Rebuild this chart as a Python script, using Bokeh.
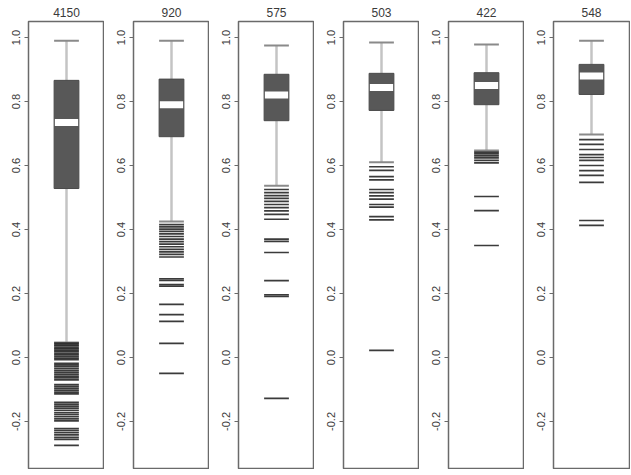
from bokeh.plotting import figure
from bokeh.layouts import row
from bokeh.models import Range1d, FixedTicker, PrintfTickFormatter
from bokeh.embed import file_html
from bokeh.resources import INLINE

# ---- data ----
counts = ["4150", "920", "575", "503", "422", "548"]
whisker_hi = [0.990, 0.990, 0.975, 0.984, 0.978, 0.990]
q3 = [0.866, 0.870, 0.885, 0.888, 0.890, 0.916]
medians = [0.734, 0.790, 0.820, 0.844, 0.850, 0.880]
q1 = [0.528, 0.690, 0.740, 0.772, 0.790, 0.822]
whisker_lo = [0.047, 0.425, 0.537, 0.610, 0.647, 0.697]

outliers_1 = [0.045, 0.040, 0.036, 0.031, 0.027, 0.022, 0.018, 0.013, 0.008, 0.003,
              -0.002, -0.007, -0.018, -0.023, -0.028, -0.034, -0.040, -0.046, -0.052,
              -0.058, -0.064, -0.070, -0.085, -0.090, -0.096, -0.102, -0.108, -0.114,
              -0.140, -0.146, -0.152, -0.158, -0.165, -0.172, -0.178, -0.185, -0.192,
              -0.198, -0.222, -0.228, -0.235, -0.242, -0.250, -0.256, -0.275]
outliers_2 = [0.415, 0.408, 0.401, 0.394, 0.386, 0.378, 0.370, 0.362, 0.354, 0.346,
              0.338, 0.330, 0.322, 0.314, 0.246, 0.241, 0.228, 0.223, 0.166, 0.134,
              0.113, 0.044, -0.050]
outliers_3 = [0.525, 0.515, 0.506, 0.497, 0.488, 0.478, 0.468, 0.458, 0.447, 0.432,
              0.370, 0.363, 0.328, 0.240, 0.196, 0.191, -0.128]
outliers_4 = [0.596, 0.585, 0.565, 0.555, 0.525, 0.515, 0.505, 0.495, 0.478, 0.470,
              0.440, 0.430, 0.022]
outliers_5 = [0.642, 0.636, 0.630, 0.624, 0.616, 0.608, 0.503, 0.459, 0.350]
outliers_6 = [0.681, 0.666, 0.650, 0.634, 0.625, 0.616, 0.600, 0.584, 0.569, 0.547,
              0.428, 0.413]
outliers = [outliers_1, outliers_2, outliers_3, outliers_4, outliers_5, outliers_6]

y_ticks = [-0.2, 0.0, 0.2, 0.4, 0.6, 0.8, 1.0]

# ---- styling / layout constants ----
BOX_C = 0.5
BOX_HW = 0.163
BOX_COLOR = "#585858"
WHISKER_COLOR = "#c4c4c4"
CAP_COLOR = "#8a8a8a"
OUT_COLOR = "#262626"
FRAME_COLOR = "#6a6a6a"
TEXT_COLOR = "#3a3a3a"
FONT = "Liberation Sans"

figs = []
for i in range(len(counts)):
    p = figure(
        frame_width=76, frame_height=447,
        x_range=Range1d(0, 1), y_range=Range1d(-0.347, 1.05),
        output_backend="svg", toolbar_location=None,
        min_border_left=28 if i == 0 else 29,
        min_border_right=1 if i == len(counts) - 1 else 0,
        min_border_top=0, min_border_bottom=1,
        x_axis_location=None, title=counts[i],
    )
    p.title.align = "center"
    p.title.text_font = FONT
    p.title.text_font_size = "12px"
    p.title.text_font_style = "normal"
    p.title.text_color = TEXT_COLOR
    p.title.standoff = 10
    p.grid.visible = False
    p.outline_line_color = FRAME_COLOR
    p.outline_line_width = 1.5
    p.background_fill_color = "white"
    p.border_fill_color = "white"

    ax = p.yaxis[0]
    ax.ticker = FixedTicker(ticks=y_ticks)
    ax.formatter = PrintfTickFormatter(format="%.1f")
    ax.major_label_orientation = "vertical"
    ax.axis_line_color = None
    ax.major_tick_out = 4
    ax.major_tick_in = 0
    ax.major_tick_line_color = FRAME_COLOR
    ax.minor_tick_line_color = None
    ax.major_label_standoff = 4
    ax.major_label_text_font = FONT
    ax.major_label_text_font_size = "11px"
    ax.major_label_text_color = TEXT_COLOR

    x0, x1 = BOX_C - BOX_HW, BOX_C + BOX_HW
    # whiskers
    p.segment(x0=[BOX_C, BOX_C], x1=[BOX_C, BOX_C],
              y0=[q3[i], q1[i]], y1=[whisker_hi[i], whisker_lo[i]],
              line_color=WHISKER_COLOR, line_width=2.5)
    # caps
    p.segment(x0=[x0, x0], x1=[x1, x1],
              y0=[whisker_hi[i], whisker_lo[i]], y1=[whisker_hi[i], whisker_lo[i]],
              line_color=CAP_COLOR, line_width=2)
    # box
    p.vbar(x=[BOX_C], width=[2 * BOX_HW], top=[q3[i]], bottom=[q1[i]],
           fill_color=BOX_COLOR, line_color="#4a4a4a", line_width=1)
    # median
    p.segment(x0=[x0 + 0.01], x1=[x1 - 0.01], y0=[medians[i]], y1=[medians[i]],
              line_color="white", line_width=7)
    # outliers
    o = outliers[i]
    p.segment(x0=[x0] * len(o), x1=[x1] * len(o), y0=o, y1=o,
              line_color=OUT_COLOR, line_width=1.7, line_alpha=0.9)
    figs.append(p)

layout = row(*figs, spacing=0)
open("out.html", "w").write(file_html(layout, INLINE))
